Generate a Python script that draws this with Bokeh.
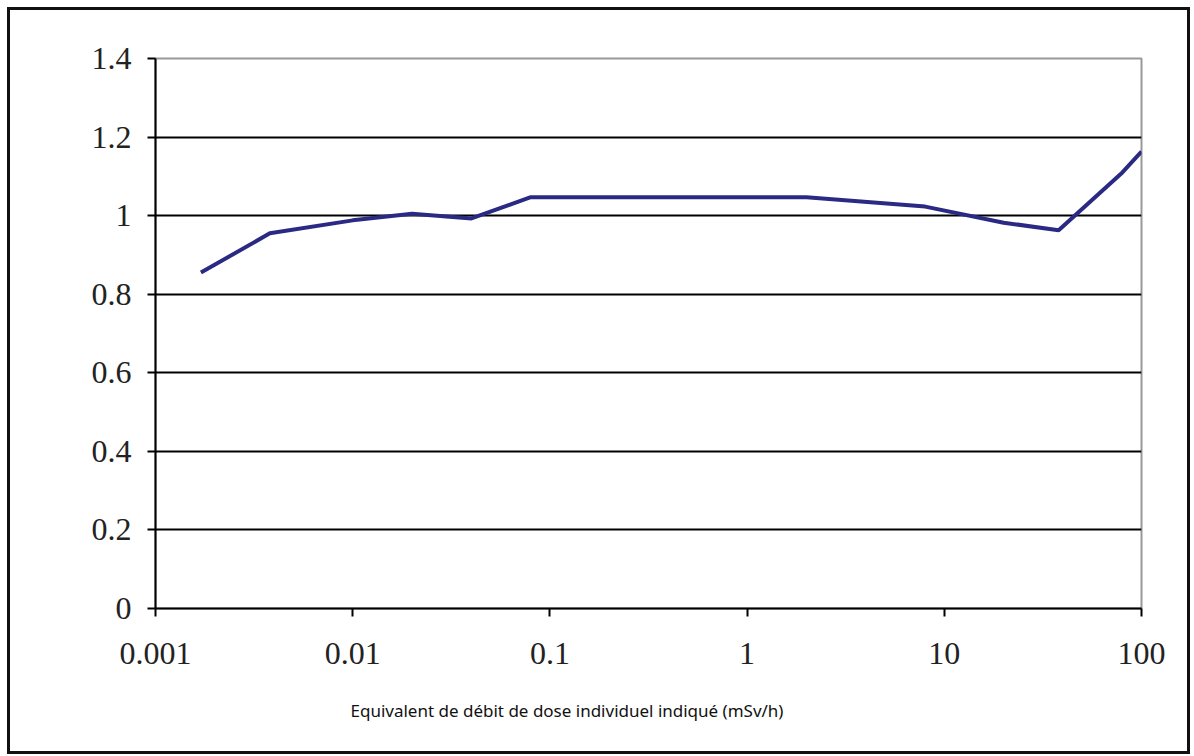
from bokeh.plotting import figure
from bokeh.models import FixedTicker, CustomJSTickFormatter, Title
from bokeh.embed import file_html
from bokeh.resources import INLINE

dose_rate = [0.0017, 0.0038, 0.01, 0.02, 0.04, 0.08, 2.0, 8.0, 20.0, 38.0, 80.0, 100.0]
response = [0.855, 0.955, 0.988, 1.005, 0.993, 1.047, 1.047, 1.023, 0.982, 0.963, 1.11, 1.163]
x_ticks = [0.001, 0.01, 0.1, 1, 10, 100]
y_ticks = [0, 0.2, 0.4, 0.6, 0.8, 1.0, 1.2, 1.4]
x_title = "Equivalent de débit de dose individuel indiqué (mSv/h)"

p = figure(x_axis_type="log", x_range=(0.001, 100), y_range=(0, 1.4),
           frame_width=986, frame_height=550,
           min_border_left=145, min_border_right=46, min_border_top=48, min_border_bottom=141,
           output_backend="svg", toolbar_location=None)
p.styles = {"border": "3px solid #111111", "margin-left": "7px", "margin-top": "7px"}
p.background_fill_color = "white"
p.border_fill_color = "white"
p.outline_line_color = "#999999"
p.outline_line_width = 2

p.line(dose_rate, response, line_color="#2A2A85", line_width=4)

p.xgrid.visible = False
p.ygrid.grid_line_color = "black"
p.ygrid.grid_line_width = 2

for ax in (p.xaxis, p.yaxis):
    ax.axis_line_color = "black"
    ax.axis_line_width = 2
    ax.major_tick_line_color = "black"
    ax.major_tick_line_width = 2
    ax.major_tick_in = 0
    ax.major_tick_out = 8
    ax.minor_tick_line_color = None
    ax.major_label_text_font = "Liberation Serif"
    ax.major_label_text_font_size = "32px"
    ax.major_label_text_color = "#222222"

p.xaxis.ticker = FixedTicker(ticks=x_ticks)
p.xaxis.formatter = CustomJSTickFormatter(code="return Number(tick.toPrecision(1)).toString();")
p.xaxis.major_label_standoff = 26
p.yaxis.ticker = FixedTicker(ticks=y_ticks)
p.yaxis.formatter = CustomJSTickFormatter(code="return Number(tick.toFixed(1)).toString();")
p.yaxis.major_label_standoff = 16

t = Title(text=x_title, align="left", offset=195, standoff=60,
          text_font="Noto Sans", text_font_size="17px", text_font_style="normal",
          text_color="#111111")
p.add_layout(t, "below")

open("out.html", "w").write(file_html(p, INLINE))
